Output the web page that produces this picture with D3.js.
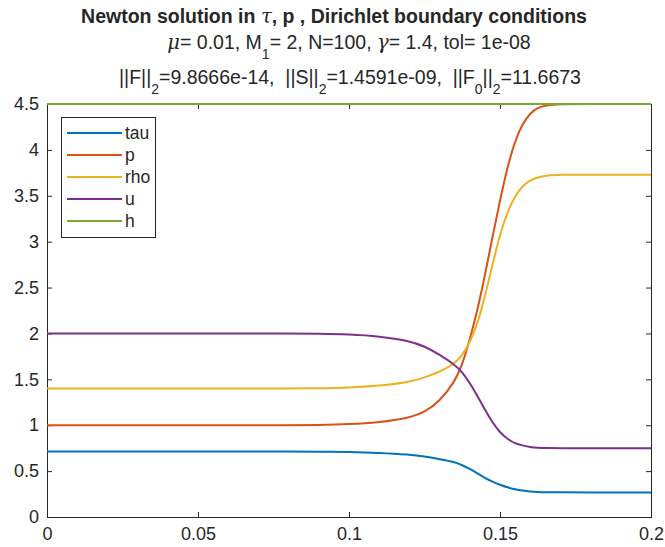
<!DOCTYPE html>
<html>
<head>
<meta charset="utf-8">
<script src="https://cdn.jsdelivr.net/npm/d3@7"></script>
<style>
body { margin: 0; background: #fff; }
text { font-family: "Liberation Sans", Arial, sans-serif; fill: #262626; white-space: pre; }
</style>
</head>
<body>
<svg width="665" height="547"></svg>
<script>
// grid points (denser around the shock)
var xs = [0, 0.02, 0.04, 0.06, 0.08, 0.09, 0.10, 0.11, 0.12, 0.125, 0.13, 0.135, 0.1375,
          0.14, 0.1425, 0.145, 0.1475, 0.15, 0.1525, 0.155, 0.1575, 0.16, 0.1625, 0.165,
          0.17, 0.18, 0.19, 0.2];

var tau = [0.714, 0.714, 0.714, 0.714, 0.713, 0.712, 0.71, 0.70, 0.68, 0.66, 0.63, 0.60, 0.565,
           0.525, 0.475, 0.425, 0.385, 0.35, 0.322, 0.302, 0.287, 0.277, 0.272, 0.27,
           0.268, 0.268, 0.268, 0.268];
var p   = [1.0, 1.0, 1.0, 1.0, 1.0, 1.003, 1.01, 1.03, 1.08, 1.14, 1.26, 1.47, 1.66,
           1.93, 2.25, 2.63, 3.05, 3.45, 3.82, 4.10, 4.29, 4.40, 4.46, 4.485,
           4.5, 4.5, 4.5, 4.5];
var rho = [1.4, 1.4, 1.4, 1.4, 1.401, 1.403, 1.41, 1.43, 1.47, 1.52, 1.58, 1.67, 1.76,
           1.9, 2.1, 2.4, 2.75, 3.08, 3.33, 3.5, 3.61, 3.67, 3.7, 3.72,
           3.73, 3.73, 3.73, 3.73];
var u   = [2.0, 2.0, 2.0, 2.0, 1.999, 1.997, 1.99, 1.97, 1.92, 1.86, 1.77, 1.66, 1.58,
           1.46, 1.32, 1.17, 1.03, 0.92, 0.85, 0.80, 0.78, 0.762, 0.755, 0.752,
           0.75, 0.75, 0.75, 0.75];
var h   = [4.5, 4.5, 4.5, 4.5, 4.5, 4.5, 4.5, 4.5, 4.5, 4.5, 4.5, 4.5, 4.5,
           4.5, 4.5, 4.5, 4.5, 4.5, 4.5, 4.5, 4.5, 4.5, 4.5, 4.5,
           4.5, 4.5, 4.5, 4.5];

var names  = ['tau', 'p', 'rho', 'u', 'h'];
var series = [tau, p, rho, u, h];
var colors = ['#0072BD', '#D95319', '#EDB120', '#7E2F8E', '#77AC30'];

var xTicks = [0, 0.05, 0.1, 0.15, 0.2];
var yTicks = [0, 0.5, 1, 1.5, 2, 2.5, 3, 3.5, 4, 4.5];

var svg = d3.select("svg"),
    pLeft = 47, pRight = 651, pTop = 104, pBottom = 517;

var x = d3.scaleLinear().domain([0, 0.2]).range([pLeft, pRight]);
var y = d3.scaleLinear().domain([0, 4.5]).range([pBottom, pTop]);

var greek = "'DejaVu Serif', 'Liberation Serif', serif";

// titles
var t1 = svg.append("text").attr("x", 334).attr("y", 23)
    .attr("text-anchor", "middle").style("font-size", "19.5px").style("font-weight", "bold");
t1.append("tspan").text("Newton solution in ");
t1.append("tspan").text("τ").style("font-family", greek).style("font-style", "italic").style("font-weight", "normal");
t1.append("tspan").text(", p , Dirichlet boundary conditions");

function sub(t, s) {
    t.append("tspan").text(s).attr("dy", 10).style("font-size", "14px");
}

var t2 = svg.append("text").attr("x", 349).attr("y", 49)
    .attr("text-anchor", "middle").style("font-size", "19.5px");
t2.append("tspan").text("μ").style("font-family", greek).style("font-style", "italic");
t2.append("tspan").text("= 0.01, M");
sub(t2, "1");
t2.append("tspan").text("= 2, N=100, ").attr("dy", -10);
t2.append("tspan").text("γ").style("font-family", greek).style("font-style", "italic");
t2.append("tspan").text("= 1.4, tol= 1e-08");

var t3 = svg.append("text").attr("x", 350).attr("y", 84)
    .attr("text-anchor", "middle").style("font-size", "19.5px");
t3.append("tspan").text("||F||");
sub(t3, "2");
t3.append("tspan").text("=9.8666e-14,  ||S||").attr("dy", -10);
sub(t3, "2");
t3.append("tspan").text("=1.4591e-09,  ||F").attr("dy", -10);
sub(t3, "0");
t3.append("tspan").text("||").attr("dy", -10);
sub(t3, "2");
t3.append("tspan").text("=11.6673").attr("dy", -10);

// axes (box with inward ticks on all four sides)
var ax = svg.append("g").attr("transform", "translate(0," + pBottom + ")")
    .call(d3.axisBottom(x).tickValues(xTicks).tickSize(-5).tickPadding(10).tickFormat(d3.format("")));
var axTop = svg.append("g").attr("transform", "translate(0," + pTop + ")")
    .call(d3.axisTop(x).tickValues(xTicks).tickSize(-5).tickFormat(""));
var ay = svg.append("g").attr("transform", "translate(" + pLeft + ",0)")
    .call(d3.axisLeft(y).tickValues(yTicks).tickSize(-5).tickPadding(8).tickFormat(d3.format("")));
var ayR = svg.append("g").attr("transform", "translate(" + pRight + ",0)")
    .call(d3.axisRight(y).tickValues(yTicks).tickSize(-5).tickFormat(""));

[ax, axTop, ay, ayR].forEach(function (g) {
    g.selectAll("path").attr("stroke", "#262626").attr("stroke-width", 1);
    g.selectAll("line").attr("stroke", "#262626").attr("stroke-width", 1);
    g.selectAll("text").style("font-size", "18px").attr("fill", "#262626");
});

// curves
var line = d3.line()
    .x(function (d, i) { return x(xs[i]); })
    .y(function (d) { return y(d); })
    .curve(d3.curveBasis);

series.forEach(function (s, k) {
    svg.append("path").datum(s)
        .attr("d", line)
        .attr("fill", "none")
        .attr("stroke", colors[k])
        .attr("stroke-width", 2);
});

// legend
var lg = svg.append("g");
lg.append("rect").attr("x", 61.5).attr("y", 117.5).attr("width", 94).attr("height", 120)
    .attr("fill", "#fff").attr("stroke", "#262626").attr("stroke-width", 1);
names.forEach(function (n, k) {
    var yy = 133 + k * 22;
    lg.append("line").attr("x1", 67).attr("x2", 122).attr("y1", yy).attr("y2", yy)
        .attr("stroke", colors[k]).attr("stroke-width", 2);
    lg.append("text").attr("x", 125).attr("y", yy + 6).text(n).style("font-size", "17.5px");
});
</script>
</body>
</html>
